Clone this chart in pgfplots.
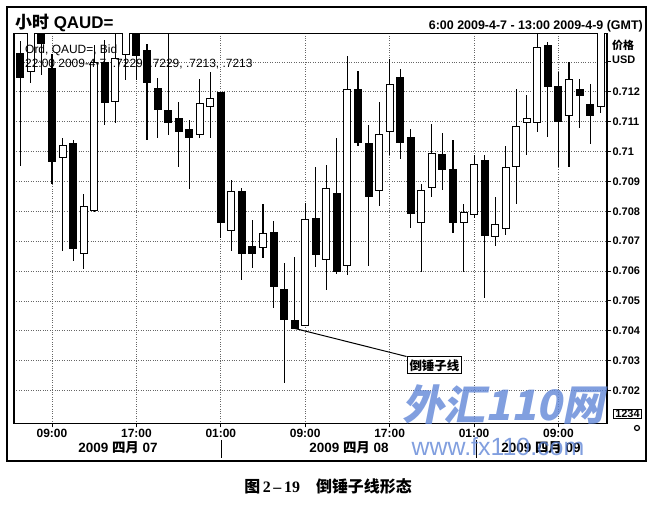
\documentclass[border=0pt]{standalone}
\usepackage{pgfplots}
\pgfplotsset{compat=1.18}
\usepackage{pgfplotstable}
\usepackage{fontspec}
\setmainfont{Liberation Sans}
\newfontfamily\cjk{Noto Sans CJK SC}
\newfontfamily\wmcjk{Noto Sans CJK SC}[FakeSlant=0.2]
\newfontfamily\serif{Liberation Serif}
\definecolor{wmblue}{RGB}{98,135,215}

% hourly candles, index 0 = 6:00 2009-4-7
% falling (black) candles: index, open, high, low, close
\pgfplotstableread{
i o h l c
0 0.71330 0.71373 0.70954 0.71246
2 0.71410 0.71420 0.71256 0.71360
3 0.71279 0.71330 0.70894 0.70964
5 0.71028 0.71038 0.70636 0.70676
8 0.71300 0.71373 0.71088 0.71165
11 0.71410 0.71420 0.71239 0.71320
12 0.71340 0.71360 0.71038 0.71229
13 0.71212 0.71246 0.71048 0.71139
14 0.71139 0.71420 0.71055 0.71095
15 0.71112 0.71165 0.70948 0.71065
16 0.71078 0.71105 0.70877 0.71048
19 0.71199 0.71200 0.70710 0.70760
21 0.70870 0.70877 0.70569 0.70659
22 0.70686 0.70770 0.70609 0.70659
24 0.70730 0.70767 0.70478 0.70545
25 0.70539 0.70629 0.70227 0.70438
26 0.70438 0.70646 0.70405 0.70408
28 0.70780 0.70948 0.70612 0.70656
30 0.70860 0.71048 0.70590 0.70596
32 0.71209 0.71269 0.71021 0.71028
33 0.71028 0.71088 0.70619 0.70847
36 0.71249 0.71279 0.70978 0.71028
37 0.71048 0.71078 0.70746 0.70793
40 0.70991 0.71062 0.70870 0.70938
41 0.70941 0.71038 0.70726 0.70763
44 0.70971 0.70991 0.70512 0.70716
50 0.71357 0.71367 0.71048 0.71216
51 0.71219 0.71266 0.70948 0.71098
53 0.71209 0.71243 0.71078 0.71186
54 0.71159 0.71229 0.71028 0.71119
}\bear

% rising (white) candles
\pgfplotstableread{
i o h l c
1 0.71266 0.71420 0.71229 0.71410
4 0.70978 0.71048 0.70669 0.71021
6 0.70659 0.70860 0.70609 0.70820
7 0.70803 0.71357 0.70797 0.71300
9 0.71165 0.71397 0.71098 0.71313
10 0.71323 0.71420 0.71239 0.71410
17 0.71058 0.71243 0.71048 0.71165
18 0.71149 0.71266 0.71048 0.71179
20 0.70736 0.70904 0.70669 0.70867
23 0.70679 0.70827 0.70646 0.70730
27 0.70418 0.70830 0.70416 0.70777
29 0.70636 0.70958 0.70539 0.70877
31 0.70616 0.71320 0.70589 0.71209
34 0.70867 0.71169 0.70820 0.71058
35 0.71068 0.71310 0.70988 0.71229
38 0.70760 0.70891 0.70599 0.70870
39 0.70881 0.71092 0.70847 0.70998
42 0.70760 0.70827 0.70599 0.70797
43 0.70790 0.70988 0.70780 0.70961
45 0.70716 0.70847 0.70686 0.70760
46 0.70740 0.71018 0.70720 0.70948
47 0.70948 0.71209 0.70827 0.71088
48 0.71098 0.71189 0.70991 0.71112
49 0.71098 0.71420 0.71068 0.71350
52 0.71119 0.71300 0.70948 0.71243
55 0.71149 0.71420 0.71129 0.71410
}\bull

\begin{document}
\begin{tikzpicture}
\path[use as bounding box] (-14bp,-84.7bp) rectangle (640bp,423.3bp);
\begin{axis}[
    at={(0,0)}, anchor=south west,
    scale only axis, width=593bp, height=390bp,
    xmin=-0.6, xmax=55.6,
    ymin=0.700904, ymax=0.713958,
    axis line style={line width=1.1bp},
    xtick={3,11,19,27,35,43,51},
    xticklabels={09:00,17:00,01:00,09:00,17:00,01:00,09:00},
    ytick={0.702,0.703,0.704,0.705,0.706,0.707,0.708,0.709,0.710,0.711,0.712,0.713},
    yticklabels={0.702,0.703,0.704,0.705,0.706,0.707,0.708,0.709,0.71,0.711,0.712,},
    xtick pos=bottom, ytick pos=right, yticklabel pos=right,
    tick align=outside, major tick length=4bp,
    tick style={line width=0.9bp, black},
    xmajorgrids, ymajorgrids,
    grid style={dotted, line width=0.7bp, black!60},
    yticklabel style={font=\bfseries\fontsize{11}{12}\selectfont, xshift=-2bp},
    xticklabel style={font=\bfseries\fontsize{12}{13}\selectfont, yshift=2bp},
    /pgf/number format/assume math mode=true,
    candle/.style={draw=none, mark=none, error bars/.cd, y dir=both,
        y explicit, error mark=none},
]
% wicks
\addplot[candle, error bar style={draw=black, line width=1.1bp}]
    table[x=i, y expr={(\thisrow{h}+\thisrow{l})/2},
          y error expr={(\thisrow{h}-\thisrow{l})/2}] {\bear};
\addplot[candle, error bar style={draw=black, line width=1.1bp}]
    table[x=i, y expr={(\thisrow{h}+\thisrow{l})/2},
          y error expr={(\thisrow{h}-\thisrow{l})/2}] {\bull};
% bodies
\addplot[candle, error bar style={draw=black, line width=8bp}]
    table[x=i, y expr={(\thisrow{o}+\thisrow{c})/2},
          y error expr={abs(\thisrow{o}-\thisrow{c})/2}] {\bear};
\addplot[candle, error bar style={draw=black, line width=8bp}]
    table[x=i, y expr={(\thisrow{o}+\thisrow{c})/2},
          y error expr={abs(\thisrow{o}-\thisrow{c})/2}] {\bull};
\addplot[candle, error bar style={draw=white, line width=6bp}]
    table[x=i, y expr={(\thisrow{o}+\thisrow{c})/2},
          y error expr={abs(\thisrow{o}-\thisrow{c})/2-0.0000335}] {\bull};
% label for the inverted hammer
\draw[line width=1bp] (axis cs:26,0.70408) -- (axis cs:36.6,0.70314)
    node[anchor=north west, draw, fill=white, line width=1bp, inner sep=2.5bp,
         font=\cjk\bfseries\fontsize{12.5}{13}\selectfont] {倒锤子线};
\end{axis}

\begin{scope}[x=1bp, y=-1bp, shift={(-14bp,423.3bp)}]
\draw[line width=1.3bp] (7,7) rectangle (646,461);
\node[anchor=base west, inner sep=0, font=\bfseries\fontsize{17}{18}\selectfont]
    at (15,28.5) {{\cjk 小时} QAUD=};
\node[anchor=base east, inner sep=0, font=\bfseries\fontsize{12.5}{13}\selectfont]
    at (643,30) {6:00 2009-4-7 - 13:00 2009-4-9 (GMT)};
\node[anchor=base west, inner sep=0, font=\fontsize{12}{13}\selectfont]
    at (25,54) {Ord, QAUD=, Bid};
\node[anchor=base west, inner sep=0, font=\fontsize{12}{13}\selectfont]
    at (25,67.7) {22:00 2009-4-7, .7229, .7229, .7213, .7213};
\node[anchor=base west, inner sep=0, font=\cjk\bfseries\fontsize{11}{12}\selectfont]
    at (612,50) {价格};
\node[anchor=base west, inner sep=0, font=\bfseries\fontsize{11}{12}\selectfont]
    at (612,63.3) {USD};
\foreach \cx/\d in {118/07, 349/08, 541/09}
    \node[font=\bfseries\fontsize{13.5}{14}\selectfont] at (\cx,448)
        {2009 {\cjk 四月} \d};
\draw[line width=1bp] (221.7,440) -- (221.7,458);
\draw[line width=1bp] (476,440) -- (476,458);
\node[draw, line width=0.8bp, inner xsep=1.5bp, inner ysep=0.8bp,
      font=\bfseries\fontsize{11}{11}\selectfont] at (627.5,414) {1234};
\draw[line width=1.2bp] (637,428) circle (2.5);
% watermark
\node[text=wmblue, opacity=0.8, font=\wmcjk\bfseries\fontsize{42}{42}\selectfont]
    at (503,405) {外汇110网};
\node[text=wmblue, opacity=0.8, font=\fontsize{25}{25}\selectfont]
    at (498,447) {www.fx110.com};
% caption
\node[font=\bfseries\fontsize{16}{17}\selectfont] at (328,486)
    {{\cjk 图}\,{\serif 2\,–\,19}\hspace{16bp}{\cjk 倒锤子线形态}};
\end{scope}
\end{tikzpicture}
\end{document}
